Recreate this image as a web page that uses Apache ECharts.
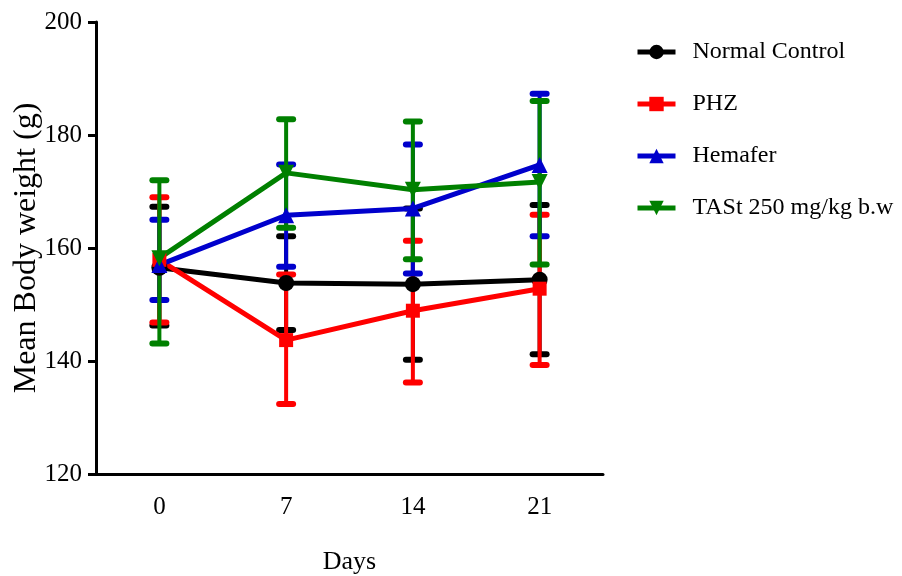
<!DOCTYPE html>
<html>
<head>
<meta charset="utf-8">
<script src="https://cdn.jsdelivr.net/npm/echarts@6/dist/echarts.min.js"></script>
<style>
  html, body { margin: 0; padding: 0; background: #fff; }
  #chart { width: 902px; height: 576px; }
</style>
</head>
<body>
<div id="chart"></div>
<script>
// days on x axis
var days = ['0', '7', '14', '21'];
var groupNames = ['Normal Control', 'PHZ', 'Hemafer', 'TASt 250 mg/kg b.w'];
var groupColors = ['#000000', '#ff0000', '#0000cc', '#008000'];
var groupSymbols = ['circle', 'rect', 'triangle', 'path://M0,0 L10,0 L5,9 Z'];

// mean body weight (g)
var normalMean = [156.5, 153.8, 153.6, 154.4];
var phzMean = [157.9, 143.7, 148.9, 152.8];
var hemaferMean = [157.0, 165.8, 167.0, 174.7];
var tastMean = [158.2, 173.3, 170.3, 171.7];

// error bar ends (low, high)
var normalLow = [146.3, 145.5, 140.2, 141.2];
var normalHigh = [167.3, 162.1, 167.0, 167.6];
var phzLow = [146.8, 132.4, 136.2, 139.3];
var phzHigh = [169.0, 155.3, 161.3, 165.9];
var hemaferLow = [150.8, 156.7, 155.5, 162.1];
var hemaferHigh = [165.0, 174.8, 178.3, 187.3];
var tastLow = [143.1, 163.6, 158.0, 157.1];
var tastHigh = [172.0, 182.8, 182.4, 186.0];

var means = [normalMean, phzMean, hemaferMean, tastMean];
var lows = [normalLow, phzLow, hemaferLow, tastLow];
var highs = [normalHigh, phzHigh, hemaferHigh, tastHigh];

var serif = '"Liberation Serif", "Times New Roman", serif';

// 误差线
function errorRender(color) {
  return function (params, api) {
    var x = api.value(0);
    var lo = api.coord([x, api.value(1)]);
    var hi = api.coord([x, api.value(2)]);
    var half = 7;
    var style = { stroke: color, lineWidth: 6, lineCap: 'round' };
    return {
      type: 'group',
      children: [
        { type: 'line', shape: { x1: lo[0], y1: lo[1], x2: hi[0], y2: hi[1] },
          style: { stroke: color, lineWidth: 4 } },
        { type: 'line', shape: { x1: lo[0] - half, y1: lo[1], x2: lo[0] + half, y2: lo[1] }, style: style },
        { type: 'line', shape: { x1: hi[0] - half, y1: hi[1], x2: hi[0] + half, y2: hi[1] }, style: style }
      ]
    };
  };
}

var series = [];
for (var g = 0; g < groupNames.length; g++) {
  var errData = [];
  for (var i = 0; i < days.length; i++) {
    errData.push([i, lows[g][i], highs[g][i]]);
  }
  series.push({
    name: groupNames[g] + ' err',
    type: 'custom',
    renderItem: errorRender(groupColors[g]),
    encode: { x: 0, y: [1, 2] },
    data: errData,
    silent: true
  });
  series.push({
    name: groupNames[g],
    type: 'line',
    data: means[g],
    symbol: groupSymbols[g],
    symbolSize: g === 1 ? 14 : 16,
    color: groupColors[g],
    lineStyle: { width: 5, color: groupColors[g] },
    itemStyle: { color: groupColors[g] }
  });
}

var option = {
  animation: false,
  backgroundColor: '#fff',
  grid: { left: 96, right: 299, top: 22, bottom: 102, outerBoundsMode: 'none', containLabel: false },
  legend: {
    data: groupNames,
    orient: 'vertical',
    left: 635,
    top: 40,
    padding: 0,
    itemWidth: 38,
    itemHeight: 18,
    itemGap: 28,
    lineStyle: { width: 5 },
    textStyle: { fontFamily: serif, fontSize: 24, color: '#000', padding: [0, 0, 0, 12] }
  },
  xAxis: {
    type: 'category',
    data: days,
    boundaryGap: true,
    name: 'Days',
    nameLocation: 'middle',
    nameGap: 75,
    nameMoveOverlap: false,
    nameTextStyle: { fontFamily: serif, fontSize: 26, color: '#000' },
    axisLine: { lineStyle: { color: '#000', width: 3 } },
    axisTick: { alignWithLabel: true, length: 8, lineStyle: { width: 3, color: '#000' } },
    axisLabel: { fontFamily: serif, fontSize: 25, color: '#000', margin: 21 },
    splitLine: { show: false }
  },
  yAxis: {
    type: 'value',
    min: 120,
    max: 200,
    interval: 20,
    name: 'Mean Body weight (g)',
    nameLocation: 'middle',
    nameGap: 53,
    nameMoveOverlap: false,
    nameTextStyle: { fontFamily: serif, fontSize: 32, color: '#000' },
    axisLine: { show: true, lineStyle: { color: '#000', width: 3 } },
    axisTick: { show: true, length: 8, lineStyle: { width: 3, color: '#000' } },
    axisLabel: { fontFamily: serif, fontSize: 25, color: '#000', margin: 14 },
    splitLine: { show: false }
  },
  series: series
};

var myChart = echarts.init(document.getElementById('chart'));
myChart.setOption(option);
</script>
</body>
</html>
